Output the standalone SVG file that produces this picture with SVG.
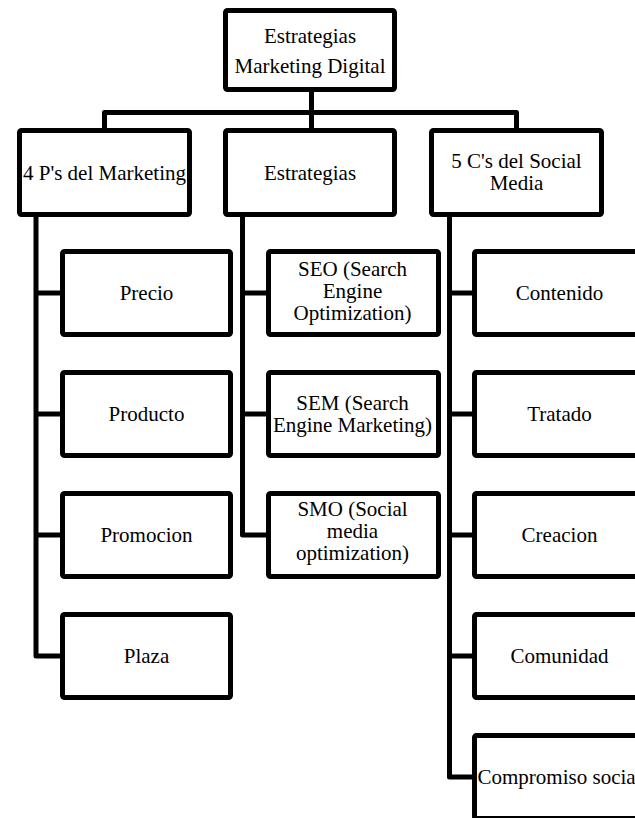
<svg xmlns="http://www.w3.org/2000/svg" width="635" height="818" viewBox="0 0 635 818">
<style>
.box{fill:#fff;stroke:#000;stroke-width:5;stroke-linejoin:round}
.ln{fill:none;stroke:#000;stroke-width:5;stroke-linejoin:round;stroke-linecap:butt}
text{font-family:'Liberation Serif','DejaVu Serif',serif;font-size:21px;fill:#000;text-anchor:middle}
</style>
<rect width="635" height="818" fill="#fff"/>
<g id="connectors">
<path class="ln" d="M311.5 89.5 V130.5"/>
<path class="ln" d="M104.5 130.5 V112.5 H516.5 V130.5"/>
<path class="ln" d="M36 214.5 V656 H62.5 M36 293 H62.5 M36 414 H62.5 M36 535 H62.5"/>
<path class="ln" d="M242.5 214.5 V535 H268.5 M242.5 293 H268.5 M242.5 414 H268.5"/>
<path class="ln" d="M449.5 214.5 V777 H474.5 M449.5 293 H474.5 M449.5 414 H474.5 M449.5 535 H474.5 M449.5 656 H474.5"/>
</g>
<g id="root"><rect class="box" x="225.5" y="10.5" width="169" height="79" rx="2"/><text x="310" y="43">Estrategias</text><text x="310" y="73">Marketing Digital</text></g>
<g id="n4p"><rect class="box" x="19.5" y="130.5" width="170" height="84" rx="2"/><text x="104.5" y="179.5">4 P's del Marketing</text></g>
<g id="nestr"><rect class="box" x="225.5" y="130.5" width="169" height="84" rx="2"/><text x="310" y="179.5">Estrategias</text></g>
<g id="n5c"><rect class="box" x="431.5" y="130.5" width="170" height="84" rx="2"/><text x="516.5" y="168">5 C's del Social</text><text x="516.5" y="190">Media</text></g>
<g id="precio"><rect class="box" x="62.5" y="251.5" width="168" height="83" rx="2"/><text x="146.5" y="300">Precio</text></g>
<g id="producto"><rect class="box" x="62.5" y="372.5" width="168" height="83" rx="2"/><text x="146.5" y="421">Producto</text></g>
<g id="promocion"><rect class="box" x="62.5" y="493.5" width="168" height="83" rx="2"/><text x="146.5" y="542">Promocion</text></g>
<g id="plaza"><rect class="box" x="62.5" y="614.5" width="168" height="83" rx="2"/><text x="146.5" y="663">Plaza</text></g>
<g id="seo"><rect class="box" x="268.5" y="251.5" width="170" height="83" rx="2"/><text x="352.5" y="276">SEO (Search</text><text x="352.5" y="298">Engine</text><text x="352.5" y="320">Optimization)</text></g>
<g id="sem"><rect class="box" x="268.5" y="372.5" width="170" height="83" rx="2"/><text x="352.5" y="410">SEM (Search</text><text x="352.5" y="432">Engine Marketing)</text></g>
<g id="smo"><rect class="box" x="268.5" y="493.5" width="170" height="83" rx="2"/><text x="352.5" y="516">SMO (Social</text><text x="352.5" y="538">media</text><text x="352.5" y="560">optimization)</text></g>
<g id="contenido"><rect class="box" x="474.5" y="251.5" width="170" height="83" rx="2"/><text x="559.5" y="300">Contenido</text></g>
<g id="tratado"><rect class="box" x="474.5" y="372.5" width="170" height="83" rx="2"/><text x="559.5" y="421">Tratado</text></g>
<g id="creacion"><rect class="box" x="474.5" y="493.5" width="170" height="83" rx="2"/><text x="559.5" y="542">Creacion</text></g>
<g id="comunidad"><rect class="box" x="474.5" y="614.5" width="170" height="83" rx="2"/><text x="559.5" y="663">Comunidad</text></g>
<g id="compromiso"><rect class="box" x="474.5" y="735.5" width="170" height="83" rx="2"/><text x="559.5" y="784">Compromiso social</text></g>
</svg>
